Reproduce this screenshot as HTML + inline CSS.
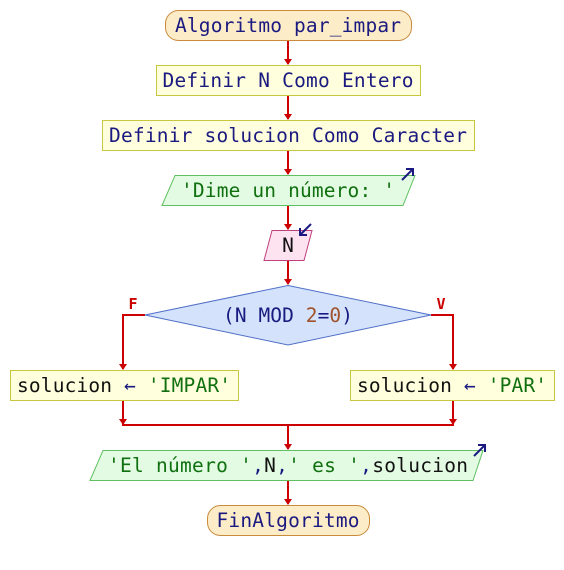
<!DOCTYPE html>
<html><head><style>body{margin:0;background:#fff}svg{display:block}</style></head><body>
<svg width="564" height="570" xmlns="http://www.w3.org/2000/svg" font-family="'DejaVu Sans Mono','Liberation Mono',monospace" font-size="19.5">
<g stroke="#c00" stroke-width="2" fill="none">
<line x1="288" y1="40" x2="288" y2="64"/><path d="M284,59 L288,65 L292,59Z" fill="#c00" stroke="none"/>
<line x1="288" y1="95" x2="288" y2="119"/><path d="M284,114 L288,120 L292,114Z" fill="#c00" stroke="none"/>
<line x1="288" y1="150" x2="288" y2="174"/><path d="M284,169 L288,175 L292,169Z" fill="#c00" stroke="none"/>
<line x1="288" y1="205" x2="288" y2="229"/><path d="M284,224 L288,230 L292,224Z" fill="#c00" stroke="none"/>
<line x1="288" y1="260" x2="288" y2="284"/><path d="M284,279 L288,285 L292,279Z" fill="#c00" stroke="none"/>
<polyline points="145,315 123,315 123,369"/><path d="M119,364 L123,370 L127,364Z" fill="#c00" stroke="none"/>
<polyline points="431,315 453,315 453,369"/><path d="M449,364 L453,370 L457,364Z" fill="#c00" stroke="none"/>
<polyline points="123,400 123,425 453,425 453,400"/>
<path d="M119,419 L123,425 L127,419Z M449,419 L453,425 L457,419Z" fill="#c00" stroke="none"/>
<line x1="288" y1="425" x2="288" y2="449"/><path d="M284,444 L288,450 L292,444Z" fill="#c00" stroke="none"/>
<line x1="288" y1="480" x2="288" y2="504"/><path d="M284,499 L288,505 L292,499Z" fill="#c00" stroke="none"/>
</g>
<rect x="165.5" y="10.5" width="246" height="30" rx="13" fill="#fdecc8" stroke="#c98a3a"/>
<text x="288" y="32" text-anchor="middle" fill="#1a1a80" textLength="226">Algoritmo par_impar</text>
<rect x="156.5" y="65.5" width="264" height="30" fill="#ffffdd" stroke="#c8c840"/>
<text x="288" y="87" text-anchor="middle" fill="#1a1a80" textLength="251">Definir N Como Entero</text>
<rect x="102.5" y="120.5" width="372" height="30" fill="#ffffdd" stroke="#c8c840"/>
<text x="288" y="142" text-anchor="middle" fill="#1a1a80" textLength="358">Definir solucion Como Caracter</text>
<polygon points="175,175.5 415,175.5 403,205.5 162,205.5" fill="#e2fbe2" stroke="#60c060"/>
<text x="288" y="197" text-anchor="middle" fill="#107010" textLength="214">'Dime un número: '</text>
<path d="M402,180 L413,169 M406,169 L413,169 L413,176" stroke="#1a1a80" stroke-width="2" fill="none"/>
<polygon points="272,230.5 312,230.5 304,260.5 264,260.5" fill="#fde3ef" stroke="#c04080"/>
<text x="288" y="252" text-anchor="middle" fill="#111">N</text>
<path d="M311,224 L300,235 M300,228 L300,235 L307,235" stroke="#1a1a80" stroke-width="2" fill="none"/>
<polygon points="288,285.5 431,315 288,345 145,315" fill="#d4e2fb" stroke="#5070c8"/>
<text x="288" y="322" text-anchor="middle" fill="#1a1a80" textLength="130">(N MOD <tspan fill="#a0522d">2</tspan>=<tspan fill="#a0522d">0</tspan>)</text>
<text x="133" y="309" text-anchor="middle" fill="#c00" font-weight="bold" font-size="15">F</text>
<text x="441" y="309" text-anchor="middle" fill="#c00" font-weight="bold" font-size="15">V</text>
<rect x="10.5" y="370.5" width="228" height="30" fill="#ffffdd" stroke="#c8c840"/>
<text x="124" y="392" text-anchor="middle" fill="#111" textLength="214">solucion <tspan fill="#1a1a80">←</tspan> <tspan fill="#107010">'IMPAR'</tspan></text>
<rect x="350.5" y="370.5" width="204" height="30" fill="#ffffdd" stroke="#c8c840"/>
<text x="452" y="392" text-anchor="middle" fill="#111" textLength="190">solucion <tspan fill="#1a1a80">←</tspan> <tspan fill="#107010">'PAR'</tspan></text>
<polygon points="103,450.5 483,450.5 473,480.5 90,480.5" fill="#e2fbe2" stroke="#60c060"/>
<text x="288" y="472" text-anchor="middle" fill="#107010" textLength="360">'El número '<tspan fill="#1a1a80">,</tspan><tspan fill="#111">N</tspan><tspan fill="#1a1a80">,</tspan>' es '<tspan fill="#1a1a80">,</tspan><tspan fill="#111">solucion</tspan></text>
<path d="M474,456 L485,445 M478,445 L485,445 L485,452" stroke="#1a1a80" stroke-width="2" fill="none"/>
<rect x="207.5" y="505.5" width="162" height="30" rx="13" fill="#fdecc8" stroke="#c98a3a"/>
<text x="288" y="527" text-anchor="middle" fill="#1a1a80" textLength="143">FinAlgoritmo</text>
</svg>
</body></html>
